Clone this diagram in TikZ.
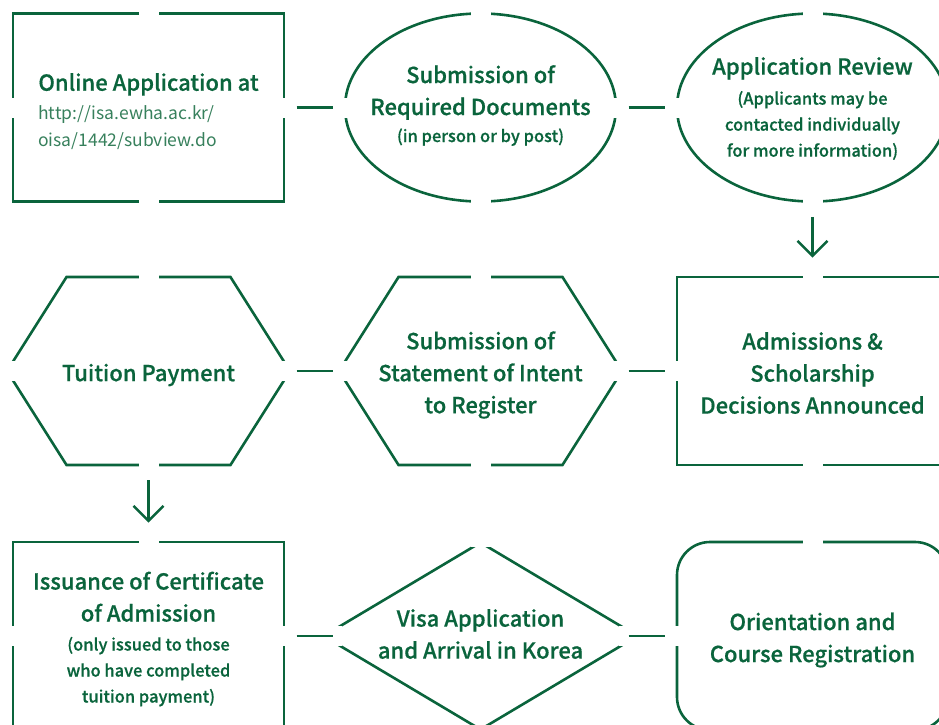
\documentclass[tikz,border=0pt]{standalone}
\usepackage{fontspec}
\setmainfont{Noto Sans CJK KR Medium}[FakeBold=0.6]
\newfontfamily\urlfont{Noto Sans CJK KR}
\usetikzlibrary{arrows.meta, shapes.geometric, shapes.symbols}
\definecolor{ewgreen}{RGB}{10,100,60}
\definecolor{urlgreen}{RGB}{55,128,92}
\newcommand{\notesize}{\fontsize{16.5}{26}\selectfont}

\begin{document}
\begin{tikzpicture}[x=1pt, y=-1pt,
		flow/.style={draw=ewgreen, line width=2.6pt, inner sep=0pt, minimum width=271pt, minimum height=188pt},
		box/.style={flow, rectangle},
		oval/.style={flow, ellipse},
		hexa/.style={flow, signal, signal to=east and west, signal pointer angle=115.3, minimum width=283pt},
		rhomb/.style={flow, diamond, minimum width=315pt},
		roundbox/.style={flow, rectangle, rounded corners=33pt},
		txt/.style={text=ewgreen, align=center, font=\fontsize{22}{32}\selectfont},
		link/.style={draw=ewgreen, line width=2.6pt, shorten <=148pt, shorten >=148pt},
		down/.style={draw=ewgreen, line width=2.6pt, -{Straight Barb[length=15pt, width=30pt]}, shorten <=14pt, shorten >=18pt}]
		
		\useasboundingbox (0,0) rectangle (939,724);
		\clip (0,0) rectangle (939,724);
		
		% Row 1
		\node[box] (apply) at (148.5,107.5) {};
		\node[oval] (docs) at (480.5,107.5) {};
		\node[oval] (review) at (812.5,107.5) {};
		
		% Row 2
		\node[hexa] (pay) at (148.5,371) {};
		\node[hexa] (intent) at (480.5,371) {};
		\node[box] (decide) at (812.5,371) {};
		
		% Row 3
		\node[box] (cert) at (148.5,636) {};
		\node[rhomb] (visa) at (480.5,636) {};
		\node[roundbox] (orient) at (812.5,636) {};
		
		% Gaps in the outlines
		\foreach \n in {apply,docs,review,pay,intent,decide,cert,visa,orient} {
			\fill[white] ([shift={(-10,-6)}]\n.north) rectangle ([shift={(10,6)}]\n.north);
			\fill[white] ([shift={(-10,-6)}]\n.south) rectangle ([shift={(10,6)}]\n.south);
			\fill[white] ([shift={(-20,-10)}]\n.west) rectangle ([shift={(20,10)}]\n.west);
			\fill[white] ([shift={(-20,-10)}]\n.east) rectangle ([shift={(20,10)}]\n.east);
		}
		
		% Texts
		\node[txt, align=left] (applytext) at ([yshift=-4]apply) {Online Application at\\[-3pt]
			\urlfont\fontsize{17.5}{26}\selectfont\color{urlgreen}http://isa.ewha.ac.kr/\\[-5pt]\urlfont\fontsize{17.5}{26}\selectfont\color{urlgreen}oisa/1442/subview.do};
		\node[txt] (docstext) at ([yshift=2]docs) {Submission of\\Required Documents\\[-5pt]\notesize (in person or by post)};
		\node[txt] (reviewtext) at ([yshift=-1]review) {Application Review\\[-2pt]\notesize (Applicants may be\\[-6pt]\notesize contacted individually\\[-6pt]\notesize for more information)};
		\node[txt] (paytext) at ([yshift=-4]pay) {Tuition Payment};
		\node[txt] (intenttext) at ([yshift=-4]intent) {Submission of\\Statement of Intent\\to Register};
		\node[txt] (decidetext) at ([yshift=-2]decide) {Admissions \&\\Scholarship\\Decisions Announced};
		\node[txt] (certtext) at ([yshift=-3]cert) {Issuance of Certificate\\of Admission\\[-3pt]\notesize (only issued to those\\[-6pt]\notesize who have completed\\[-6pt]\notesize tuition payment)};
		\node[txt] (visatext) at ([yshift=2]visa) {Visa Application\\and Arrival in Korea};
		\node[txt] (orienttext) at ([yshift=-4]orient) {Orientation and\\Course Registration};
		
		% Connectors
		\draw[link] (apply.center) -- (docs.center);
		\draw[link] (docs.center) -- (review.center);
		\draw[link] (pay.center) -- (intent.center);
		\draw[link] (intent.center) -- (decide.center);
		\draw[link] (cert.center) -- (visa.center);
		\draw[link] (visa.center) -- (orient.center);
		\draw[down] (review.south) -- (decide.north);
		\draw[down] (pay.south) -- (cert.north);
		
\end{tikzpicture}
\end{document}
